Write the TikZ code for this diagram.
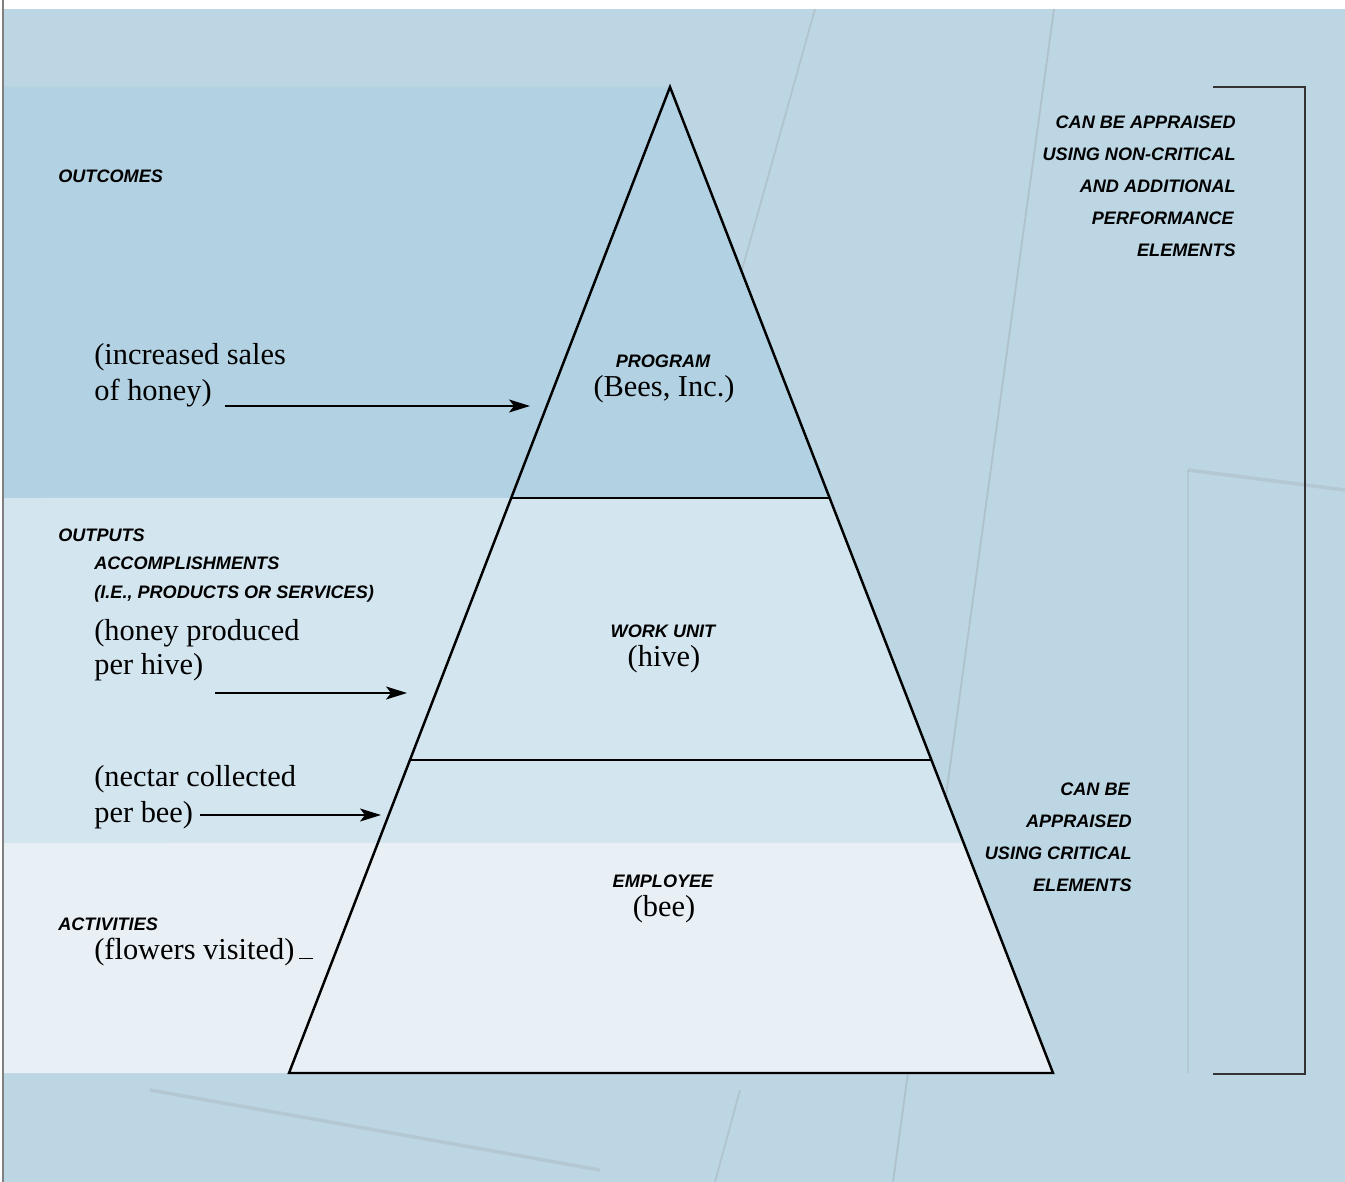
\documentclass[tikz,border=0pt]{standalone}
\usepackage{fontspec}
\setmainfont{Liberation Serif}
\setsansfont{Liberation Sans}
\usetikzlibrary{
    arrows.meta,
    calc,
    positioning
}
\definecolor{bgblue}{HTML}{BCD6E3}
\definecolor{texture}{HTML}{A7B3BB}
\definecolor{outcomeblue}{HTML}{B2D1E2}
\definecolor{outputblue}{HTML}{D3E5EF}
\definecolor{activityblue}{HTML}{E8F0F6}
\tikzset{caps/.style={inner sep=0pt, font=\sffamily\bfseries\itshape\fontsize{10.3}{12}\selectfont}}
\tikzset{note/.style={inner sep=0pt, font=\fontsize{17.3}{20}\selectfont}}
\tikzset{pyr/.style={draw=black, line width=1.4pt, line join=miter}}
\tikzset{tierline/.style={draw=black, line width=0.8pt}}
\tikzset{pointer/.style={-{Stealth[length=0.42cm, width=0.26cm, inset=0.1cm]}, line width=0.7pt}}
\tikzset{bracket/.style={draw=black!80, line width=0.8pt}}

\begin{document}
\begin{tikzpicture}[x=0.02cm, y=-0.02cm]
    \useasboundingbox (0,0) rectangle (1345,1182);
    % background
    \fill[white] (0,0) rectangle (1345,1182);
    \fill[bgblue] (4,9) rectangle (1345,1182);
    \draw[gray, line width=0.8pt] (3,0) -- (3,1182);
    \draw[texture, opacity=0.6, line width=1pt] (1054,9) -- (893,1182);
    \draw[texture, opacity=0.5, line width=1pt] (815,9) -- (700,420);
    \draw[texture, opacity=0.5, line width=1pt] (740,1090) -- (715,1182);
    \draw[texture, opacity=0.4, line width=2pt] (1188,470) -- (1345,490);
    \draw[texture, opacity=0.4, line width=1pt] (1188,470) -- (1188,1073);
    \draw[texture, opacity=0.4, line width=2pt] (150,1090) -- (600,1170);

    % pyramid corners
    \coordinate (apex) at (670,87);
    \coordinate (baseL) at (289,1073);
    \coordinate (baseR) at (1053,1073);
    \coordinate (topL) at ($(apex)!0.4168!(baseL)$);
    \coordinate (topR) at ($(apex)!0.4168!(baseR)$);
    \coordinate (midL) at ($(apex)!0.6826!(baseL)$);
    \coordinate (midR) at ($(apex)!0.6826!(baseR)$);
    \coordinate (lowR) at ($(apex)!0.7667!(baseR)$);

    % bands
    \fill[outcomeblue] (4,87) -- (apex) -- (topR) -- (4,498) -- cycle;
    \fill[outputblue] (4,498) -- (topR) -- (lowR) -- (4,843) -- cycle;
    \fill[activityblue] (4,843) -- (lowR) -- (baseR) -- (4,1073) -- cycle;

    \draw[tierline] (topL) -- (topR);
    \draw[tierline] (midL) -- (midR);
    \draw[pyr] (apex) -- (baseR) -- (baseL) -- cycle;

    % left side
    \node[caps, anchor=west] (outcomes) at (58,176) {OUTCOMES};
    \node[note, anchor=west] (sales1) at (94,357) {(increased sales};
    \node[note, anchor=west] (sales2) at (94,393) {of honey)};

    \node[caps, anchor=west] (outputs) at (58,535) {OUTPUTS};
    \node[caps, anchor=west] (accomp) at (94,563) {ACCOMPLISHMENTS};
    \node[caps, anchor=west] (products) at (94,594) {(I.E., PRODUCTS OR SERVICES)};
    \node[note, anchor=west] (hive1) at (94,633) {(honey produced};
    \node[note, anchor=west] (hive2) at (94,667) {per hive)};
    \node[note, anchor=west] (nectar1) at (94,779) {(nectar collected};
    \node[note, anchor=west] (nectar2) at (94,815) {per bee)};

    \node[caps, anchor=west] (activities) at (58,924) {ACTIVITIES};
    \node[note, anchor=west] (flowers) at (94,952) {(flowers visited)\,\rule{0.28cm}{0.6pt}};

    % inside the pyramid
    \node[caps] (program) at (663,361) {PROGRAM};
    \node[note] (bees) at (664,389) {(Bees, Inc.)};
    \node[caps] (workunit) at (663,631) {WORK UNIT};
    \node[note] (hive) at (664,659) {(hive)};
    \node[caps] (employee) at (663,881) {EMPLOYEE};
    \node[note] (bee) at (664,909) {(bee)};

    % arrows
    \coordinate (salesTail) at (225,406);
    \coordinate (salesTip) at (530,406);
    \coordinate (hiveTail) at (215,693);
    \coordinate (hiveTip) at (407,693);
    \coordinate (beeTail) at (200,815);
    \coordinate (beeTip) at (381,815);
    \draw[pointer] (salesTail) -- (salesTip);
    \draw[pointer] (hiveTail) -- (hiveTip);
    \draw[pointer] (beeTail) -- (beeTip);

    % right side
    \node[caps, anchor=east] (upper1) at (1236,122) {CAN BE APPRAISED};
    \node[caps, anchor=east] (upper2) at (1236,154) {USING NON-CRITICAL};
    \node[caps, anchor=east] (upper3) at (1236,186) {AND ADDITIONAL};
    \node[caps, anchor=east] (upper4) at (1234,218) {PERFORMANCE};
    \node[caps, anchor=east] (upper5) at (1236,250) {ELEMENTS};

    \node[caps, anchor=east] (lower1) at (1130,789) {CAN BE};
    \node[caps, anchor=east] (lower2) at (1132,821) {APPRAISED};
    \node[caps, anchor=east] (lower3) at (1132,853) {USING CRITICAL};
    \node[caps, anchor=east] (lower4) at (1132,885) {ELEMENTS};

    \coordinate (brTop) at (1213,87);
    \coordinate (brBot) at (1213,1074);
    \draw[bracket] (brTop) -- ++(92,0) |- (brBot);
\end{tikzpicture}
\end{document}
